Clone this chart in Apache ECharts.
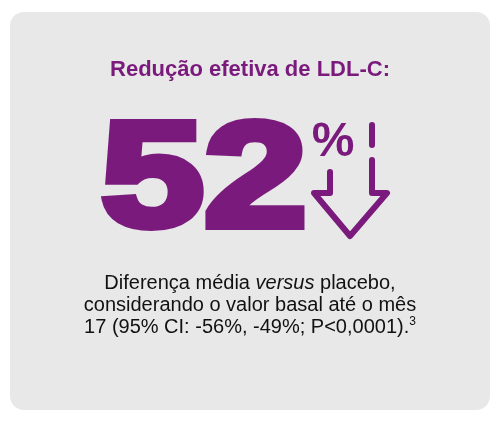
<!DOCTYPE html>
<html><head><meta charset="utf-8">
<script src="https://cdn.jsdelivr.net/npm/echarts@6/dist/echarts.min.js"></script>
<style>html,body{margin:0;padding:0;background:#fff}#c{width:500px;height:425px}</style>
</head><body><div id="c"></div>
<script>
const title = ["Redução efetiva de LDL-C:"];
const values = [52];
const bodyLines = ["Diferença média {i|versus} placebo,", "considerando o valor basal até o mês", "17 (95% CI: -56%, -49%; P<0,0001).{s|3}"];
const purple = "#7a1a7c";
const chart = echarts.init(document.getElementById('c'));
chart.setOption({
  backgroundColor: '#fff',
  graphic: [
    {type:'rect', shape:{x:10,y:12,width:480,height:398,r:14}, style:{fill:'#e8e8e8'}},
    {type:'text', x:250, y:70, style:{text:title[0], fill:purple, font:'bold 22px "Liberation Sans", Arial', align:'center', verticalAlign:'middle'}},
    {type:'text', x:101, y:185, scaleX:1.25, style:{text:String(values[0]), fill:purple, stroke:purple, lineWidth:8, lineJoin:'round', font:'900 148px "Liberation Sans", Arial', align:'left', verticalAlign:'middle'}},
    {type:'text', x:333, y:143, style:{text:'%', fill:purple, font:'bold 48px "Liberation Sans", Arial', align:'center', verticalAlign:'middle'}},
    {type:'polyline', shape:{points:[[330,172],[330,193],[314,193],[350,236],[387,193],[372,193],[372,160]]}, style:{stroke:purple, lineWidth:6, fill:null, lineJoin:'round', lineCap:'round'}},
    {type:'line', shape:{x1:372,y1:125,x2:372,y2:145}, style:{stroke:purple, lineWidth:6, lineCap:'round'}},
    {type:'text', x:250, y:305, style:{text:bodyLines.join('\n'), fill:'#111', font:'20px "Liberation Sans", Arial', align:'center', verticalAlign:'middle', lineHeight:22,
      rich:{i:{fontStyle:'italic', fontSize:20, fontFamily:'"Liberation Sans", Arial', fill:'#111'}, s:{fontSize:12, verticalAlign:'top', padding:[0,0,10,0], fill:'#111'}}}}
  ]
});
</script></body></html>
